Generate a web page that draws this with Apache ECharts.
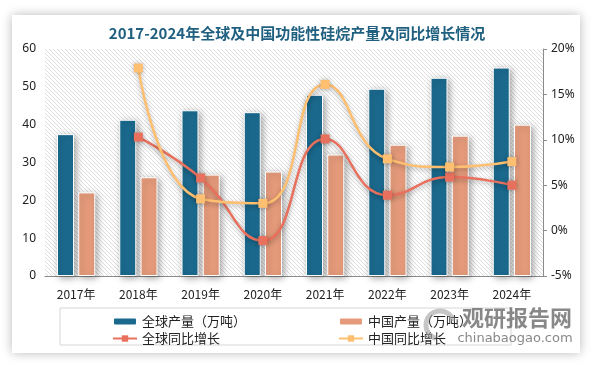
<!DOCTYPE html>
<html>
<head>
<meta charset="utf-8">
<script src="https://cdn.jsdelivr.net/npm/echarts@6/dist/echarts.min.js"></script>
<style>
html,body{margin:0;padding:0;background:#fff;}
#main{width:594px;height:366px;}
</style>
</head>
<body>
<div id="main"></div>
<script>
const categories = ['2017年','2018年','2019年','2020年','2021年','2022年','2023年','2024年'];
const globalOutput = [37.5, 41.3, 43.8, 43.3, 47.9, 49.5, 52.4, 55.1];
const chinaOutput = [22.1, 26.1, 26.8, 27.6, 32.1, 34.7, 37.1, 40.0];
const globalGrowth = ['-', 10.3, 5.8, -1.1, 10.1, 3.9, 5.9, 5.0];
const chinaGrowth = ['-', 17.9, 3.5, 3.0, 16.1, 7.9, 7.0, 7.6];

const cv = document.createElement('canvas');
cv.width = 4; cv.height = 4;
const cx = cv.getContext('2d');
cx.fillStyle = '#ffffff'; cx.fillRect(0,0,4,4);
cx.strokeStyle = '#dadada'; cx.lineWidth = 0.9;
cx.beginPath(); cx.moveTo(-1,-1); cx.lineTo(5,5); cx.stroke();
cx.beginPath(); cx.moveTo(-1,3); cx.lineTo(1,5); cx.stroke();
cx.beginPath(); cx.moveTo(3,-1); cx.lineTo(5,1); cx.stroke();

const chart = echarts.init(document.getElementById('main'), null, {renderer:'canvas'});
const fontCN = '"Noto Sans CJK SC", "Noto Sans", sans-serif';
const barShadow = {shadowBlur: 7, shadowColor: 'rgba(0,0,0,0.35)', shadowOffsetX: 2, shadowOffsetY: 2};

chart.setOption({
  backgroundColor: '#ffffff',
  textStyle: {fontFamily: fontCN},
  graphic: [
    {type:'rect', shape:{x:12,y:15,width:568,height:338}, style:{fill:'#fff', shadowBlur:10, shadowColor:'rgba(0,0,0,0.28)'}, z:-10, silent:true},
    {type:'rect', shape:{x:60,y:308,width:451,height:37}, style:{fill:'none', stroke:'#d6d6d6', lineWidth:1}, z:1, silent:true},
    {type:'text', x:517, y:318, style:{text:'观研报告网', fill:'rgba(115,115,115,0.85)', font:'bold 22px "Noto Sans CJK SC"', textAlign:'center', textVerticalAlign:'middle'}, z:100, silent:true},
    {type:'text', x:515, y:339, style:{text:'chinabaogao.com', fill:'rgba(115,115,115,0.85)', font:'13px "DejaVu Sans"', textAlign:'center', textVerticalAlign:'middle'}, z:100, silent:true},
    {type:'arc', shape:{cx:440, cy:325, r:14, startAngle:Math.PI*0.6, endAngle:Math.PI*1.9}, style:{stroke:'rgba(160,160,160,0.6)', lineWidth:5, fill:'none'}, z:100, silent:true}
  ],
  title: {
    text: '2017-2024年全球及中国功能性硅烷产量及同比增长情况',
    left: 'center', top: 21,
    textStyle: {fontFamily: fontCN, fontSize: 15, fontWeight: 'bold', color: '#1f5f7f'}
  },
  grid: {
    left: 45, right: 51, top: 49, bottom: 90,
    show: true, borderWidth: 0,
    backgroundColor: {image: cv, repeat: 'repeat'}
  },
  legend: [
    {
      left: 107, top: 310, orient: 'vertical', itemGap: 4,
      itemWidth: 24, itemHeight: 8,
      textStyle: {fontFamily: fontCN, fontSize: 13, color: '#222'},
      data: ['全球产量（万吨）', '全球同比增长']
    },
    {
      left: 333, top: 310, orient: 'vertical', itemGap: 4,
      itemWidth: 24, itemHeight: 8,
      textStyle: {fontFamily: fontCN, fontSize: 13, color: '#222'},
      data: ['中国产量（万吨）', '中国同比增长']
    }
  ],
  xAxis: {
    type: 'category', data: categories,
    axisLine: {lineStyle: {color: '#8c8c8c', width: 1}},
    axisTick: {show: false},
    axisLabel: {color: '#222', fontSize: 12, margin: 12, fontFamily: fontCN}
  },
  yAxis: [
    {
      type: 'value', min: 0, max: 60, interval: 10,
      axisLine: {show: false}, axisTick: {show: false},
      splitLine: {show: false},
      axisLabel: {color: '#222', fontSize: 12, margin: 9, fontFamily: '"Noto Sans", sans-serif'}
    },
    {
      type: 'value', min: -5, max: 20, interval: 5,
      axisLine: {show: true, lineStyle: {color: '#8c8c8c'}},
      axisTick: {show: true, length: 4, lineStyle: {color: '#8c8c8c'}},
      splitLine: {show: false},
      axisLabel: {color: '#222', fontSize: 12, margin: 8, formatter: '{value}%', fontFamily: '"Noto Sans", sans-serif'}
    }
  ],
  series: [
    {
      name: '全球产量（万吨）', type: 'bar', data: globalOutput,
      barWidth: 17, barGap: '25%',
      itemStyle: Object.assign({color: '#1b6a8e', borderColor: '#fff', borderWidth: 1}, barShadow)
    },
    {
      name: '中国产量（万吨）', type: 'bar', data: chinaOutput,
      barWidth: 17, barGap: '25%',
      itemStyle: Object.assign({color: '#e59b7b', borderColor: '#fff', borderWidth: 1}, barShadow)
    },
    {
      name: '全球同比增长', type: 'line', yAxisIndex: 1, data: globalGrowth,
      smooth: 0.5, symbol: 'rect', symbolSize: 9,
      lineStyle: {color: '#e8705c', width: 2.5, shadowBlur: 5, shadowColor: 'rgba(0,0,0,0.3)', shadowOffsetY: 2},
      itemStyle: {color: '#e8705c', shadowBlur: 5, shadowColor: 'rgba(0,0,0,0.3)'},
      z: 5
    },
    {
      name: '中国同比增长', type: 'line', yAxisIndex: 1, data: chinaGrowth,
      smooth: 0.5, symbol: 'rect', symbolSize: 9,
      lineStyle: {color: '#ffbf70', width: 2.5, shadowBlur: 5, shadowColor: 'rgba(0,0,0,0.3)', shadowOffsetY: 2},
      itemStyle: {color: '#ffbf70', shadowBlur: 5, shadowColor: 'rgba(0,0,0,0.3)'},
      z: 5
    }
  ]
});
</script>
</body>
</html>
